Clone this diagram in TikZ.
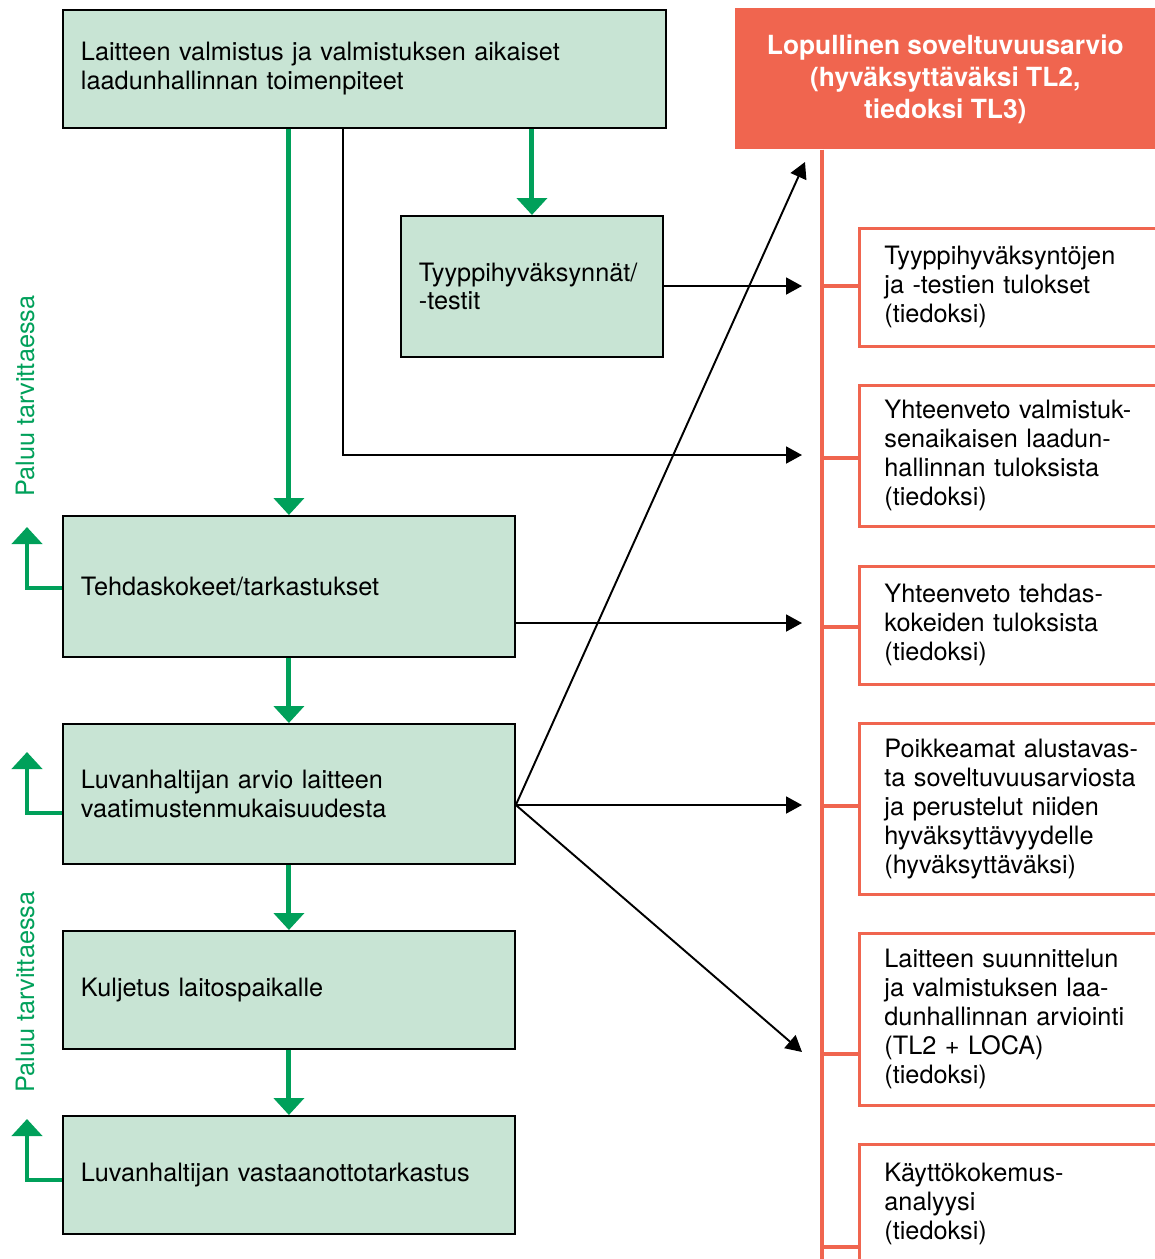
\documentclass[tikz,border=0pt]{standalone}
\usepackage{fontspec}
\setmainfont{TeX Gyre Heros}
\usetikzlibrary{arrows.meta}
\definecolor{vihrea}{HTML}{00A05A}
\definecolor{vaalea}{HTML}{C8E4D4}
\definecolor{oranssi}{HTML}{F0654F}

\begin{document}
\begin{tikzpicture}[x=0.02cm, y=-0.02cm,
    teksti/.style={font=\fontsize{14.4}{16.5}\selectfont},
    vaihe/.style={teksti, draw=black, line width=1.1pt, fill=vaalea, anchor=north west,
        align=left, inner xsep=0.36cm},
    tulos/.style={teksti, draw=oranssi, line width=1.6pt, fill=white, anchor=north west,
        align=left, inner xsep=0.5cm, text width=5.4cm},
    otsikko/.style={draw=none, fill=oranssi, text=white, anchor=north west, align=center,
        minimum width=8.4cm, minimum height=2.82cm, font=\fontsize{15}{18.2}\selectfont\bfseries},
    eteen/.style={vihrea, line width=2.8pt, -{Triangle[width=0.6cm,length=0.34cm]}},
    tieto/.style={black, line width=1.1pt, -{Triangle[width=0.34cm,length=0.32cm]}},
    runko/.style={oranssi, line width=2.8pt},
    paluuteksti/.style={teksti, text=vihrea, rotate=90}]
    \useasboundingbox (0,0) rectangle (1155,1259);

    % vasen sarake: vaiheet
    \node[vaihe, text width=11.34cm, minimum height=2.36cm] (A) at (62,9)
        {Laitteen valmistus ja valmistuksen aikaiset\\laadunhallinnan toimenpiteet};
    \node[vaihe, text width=4.52cm, minimum height=2.82cm] (B) at (400,215)
        {Tyyppihyväksynnät/\\-testit};
    \node[vaihe, text width=8.32cm, minimum height=2.82cm] (C) at (62,515)
        {Tehdaskokeet/tarkastukset};
    \node[vaihe, text width=8.32cm, minimum height=2.80cm] (D) at (62,723)
        {Luvanhaltijan arvio laitteen\\vaatimustenmukaisuudesta};
    \node[vaihe, text width=8.32cm, minimum height=2.36cm] (E) at (62,930)
        {Kuljetus laitospaikalle};
    \node[vaihe, text width=8.32cm, minimum height=2.36cm] (F) at (62,1115)
        {Luvanhaltijan vastaanottotarkastus};

    % oikea sarake: soveltuvuusarvio
    \node[otsikko] (S) at (735,8)
        {Lopullinen soveltuvuusarvio\\(hyväksyttäväksi TL2,\\tiedoksi TL3)};
    \node[tulos, minimum height=2.36cm] (R1) at (858,227)
        {Tyyppihyväksyntöjen\\ja -testien tulokset\\(tiedoksi)};
    \node[tulos, minimum height=2.82cm] (R2) at (858,384)
        {Yhteenveto valmistuk-\\senaikaisen laadun-\\hallinnan tuloksista\\(tiedoksi)};
    \node[tulos, minimum height=2.36cm] (R3) at (858,565)
        {Yhteenveto tehdas-\\kokeiden tuloksista\\(tiedoksi)};
    \node[tulos, minimum height=3.42cm] (R4) at (858,722)
        {Poikkeamat alustavas-\\ta soveltuvuusarviosta\\ja perustelut niiden\\hyväksyttävyydelle\\(hyväksyttäväksi)};
    \node[tulos, minimum height=3.44cm] (R5) at (858,932)
        {Laitteen suunnittelun\\ja valmistuksen laa-\\dunhallinnan arviointi\\(TL2 + LOCA)\\(tiedoksi)};
    \node[tulos, minimum height=2.40cm] (R6) at (858,1143)
        {Käyttökokemus-\\analyysi\\(tiedoksi)};

    % runko ja haarat
    \coordinate (s1) at (822,286);
    \coordinate (s2) at (822,458);
    \coordinate (s3) at (822,627);
    \coordinate (s4) at (822,806);
    \coordinate (s5) at (822,1054);
    \coordinate (s6) at (822,1247);
    \coordinate (ala) at (822,1265);
    \draw[runko] (S.south -| s1) -- (ala);
    \foreach \i in {1,...,6}
        \draw[runko] (s\i) -- (R\i.west |- s\i);

    % vihreät nuolet
    \draw[eteen] (A.south -| C.north) -- (C.north);
    \draw[eteen] (A.south -| B.north) -- (B.north);
    \draw[eteen] (C.south) -- (D.north);
    \draw[eteen] (D.south) -- (E.north);
    \draw[eteen] (E.south) -- (F.north);

    % paluu
    \coordinate (pC) at (27,527);
    \coordinate (pD) at (27,752);
    \coordinate (pF) at (27,1119);
    \draw[eteen] ([yshift=-0.03cm]C.west) -| (pC);
    \draw[eteen] ([yshift=-0.38cm]D.west) -| (pD);
    \draw[eteen] ([yshift=-0.1cm]F.west) -| (pF);
    \node[paluuteksti] (p1) at (25,396) {Paluu tarvittaessa};
    \node[paluuteksti] (p2) at (25,992) {Paluu tarvittaessa};

    % tiedot arvioon
    \coordinate (in1) at (802,286);
    \coordinate (in2) at (802,455);
    \coordinate (in3) at (802,623);
    \coordinate (in4) at (802,805);
    \coordinate (in5) at (802,1052);
    \coordinate (inS) at (805,162);
    \coordinate (haara) at (343,455);
    \draw[tieto] (B.east |- in1) -- (in1);
    \draw[tieto] (A.south -| haara) -- (haara) -- (in2);
    \draw[tieto] (C.east |- in3) -- (in3);
    \coordinate (Dout) at (D.east |- in4);
    \draw[tieto] (Dout) -- (in4);
    \draw[tieto] (Dout) -- (inS);
    \draw[tieto] (Dout) -- (in5);
\end{tikzpicture}
\end{document}
